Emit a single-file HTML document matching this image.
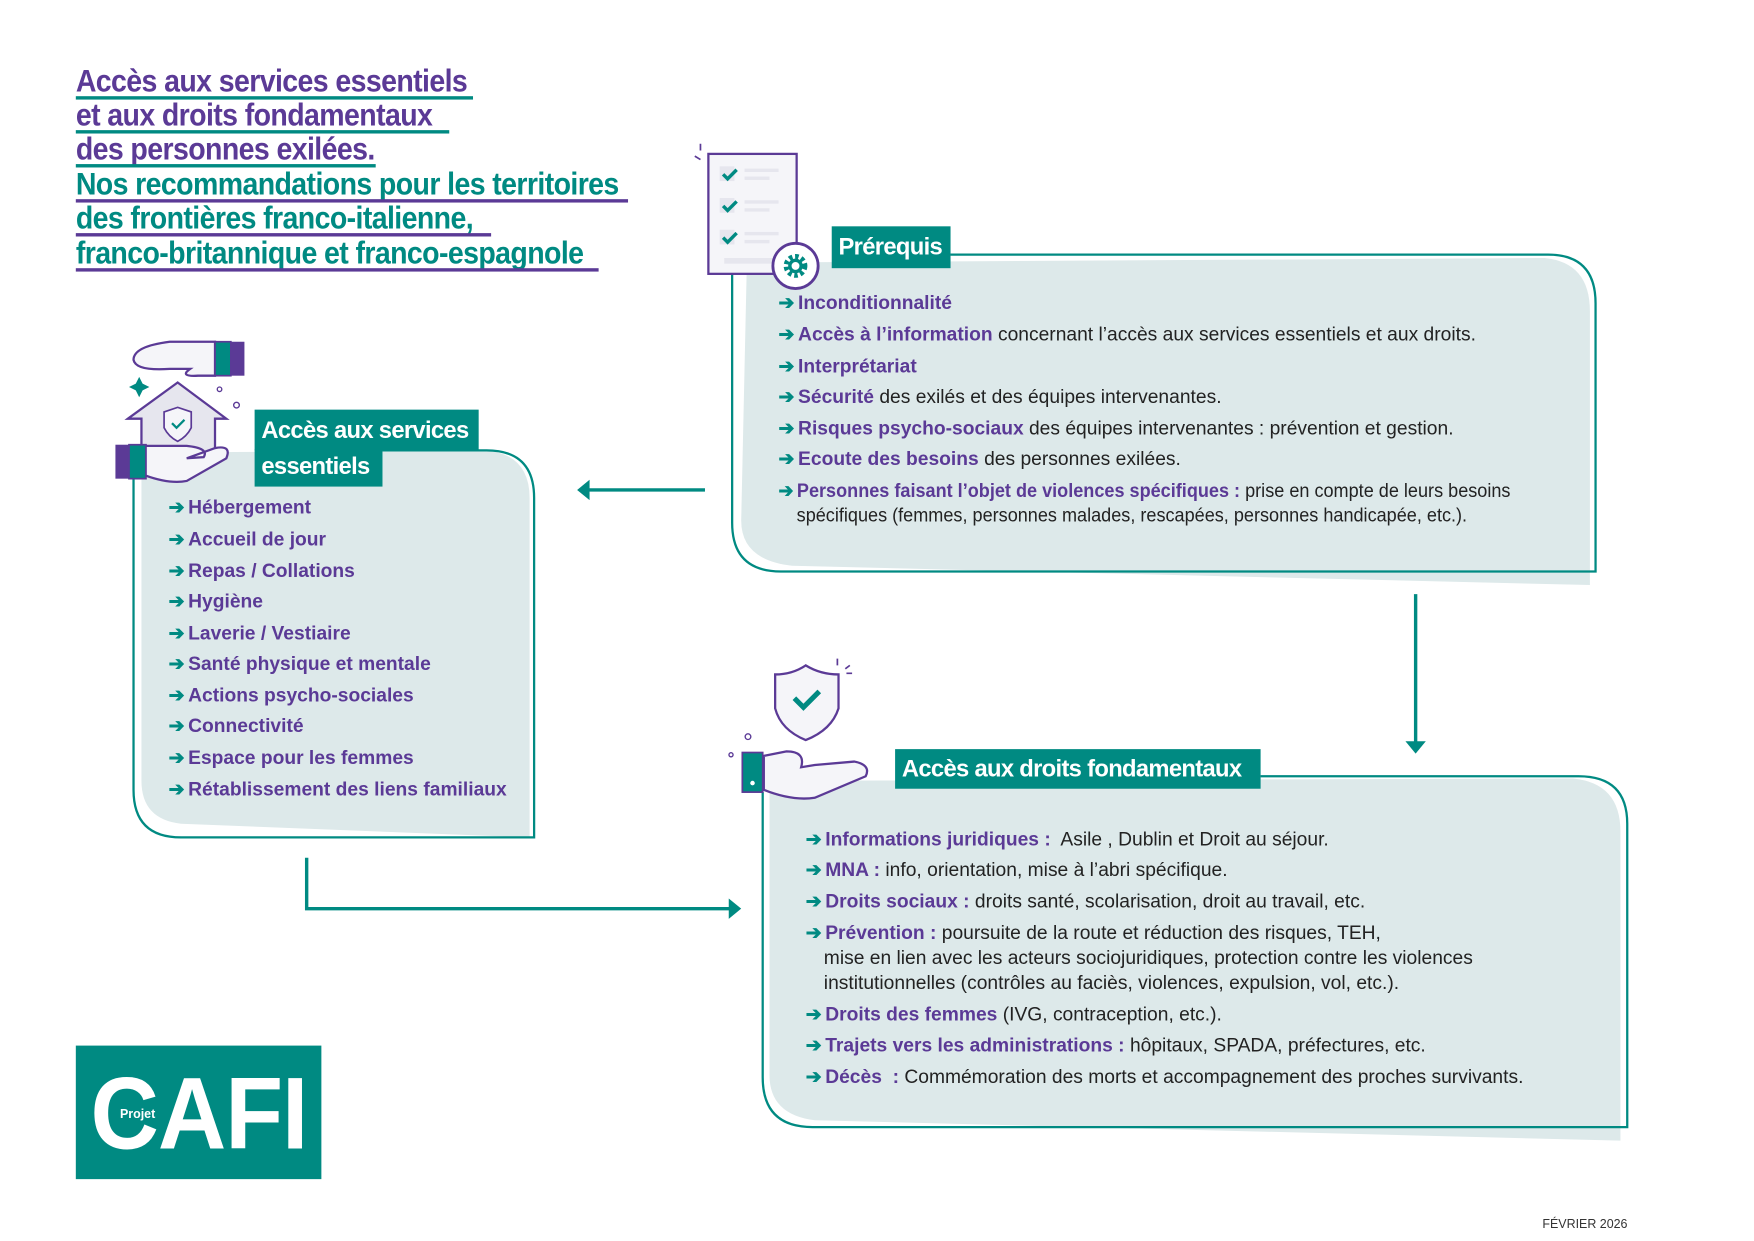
<!DOCTYPE html>
<html><head><meta charset="utf-8">
<style>
html,body{margin:0;padding:0;background:#fff;}
body{width:1754px;height:1241px;overflow:hidden;position:relative;}
#w{position:absolute;left:0;top:0;width:1550px;height:1097px;transform:scale(1.1316);transform-origin:0 0;}
.a{position:absolute;}
.t{position:absolute;white-space:nowrap;font-family:"Liberation Sans",sans-serif;line-height:1;transform-origin:0 0;}
.title{font-size:28px;font-weight:bold;letter-spacing:-0.6px;transform:scaleX(0.9);}
.p{color:#5b3a96}.g{color:#008a82}
.ul{position:absolute;height:3px;left:67px;}
.body{font-size:17px;color:#222;transform:scaleX(1.0);}
.body b{color:#5b3a96}
.body i{font-style:normal;color:#008a82;font-weight:bold;margin-right:3px}
.lbl{position:absolute;background:#008a82;color:#fff;font-family:"Liberation Sans",sans-serif;font-weight:bold;font-size:21px;letter-spacing:-0.6px;white-space:nowrap;line-height:1;}
.lst{font-size:17px;font-weight:bold;color:#5b3a96;transform:scaleX(1.0);}
.lst i{font-style:normal;color:#008a82;margin-right:3px}
</style></head><body><div id="w">

<div class="t title p" style="left:67px;top:58px">Accès aux services essentiels</div>
<div class="ul" style="top:85px;width:351px;background:#008a82"></div>
<div class="t title p" style="left:67px;top:88px">et aux droits fondamentaux</div>
<div class="ul" style="top:115px;width:330px;background:#008a82"></div>
<div class="t title p" style="left:67px;top:118px">des personnes exilées.</div>
<div class="ul" style="top:145px;width:265px;background:#008a82"></div>
<div class="t title g" style="left:67px;top:149px">Nos recommandations pour les territoires</div>
<div class="ul" style="top:176px;width:488px;background:#5b3a96"></div>
<div class="t title g" style="left:67px;top:179px">des frontières franco-italienne,</div>
<div class="ul" style="top:206px;width:367px;background:#5b3a96"></div>
<div class="t title g" style="left:67px;top:210px">franco-britannique et franco-espagnole</div>
<div class="ul" style="top:237px;width:462px;background:#5b3a96"></div>

<svg class="a" style="left:0;top:0" width="1550" height="1097">
 <path d="M660 232 L1365 228 Q1405 232 1405 275 L1405 517 L700 500 Q655 495 655 460 Z" fill="#dde9ea"/>
 <path d="M840 225 L1368 225 Q1410 225 1410 268 L1410 505 L690 505 Q647 505 647 462 L647 240" fill="none" stroke="#008a82" stroke-width="2"/>
 <path d="M125 400 L430 398 Q468 402 468 440 L468 740 L160 728 Q125 724 125 690 Z" fill="#dde9ea"/>
 <path d="M338 398 L430 398 Q472 398 472 440 L472 740 L160 740 Q118 740 118 698 L118 418" fill="none" stroke="#008a82" stroke-width="2"/>
 <path d="M680 690 L1390 688 Q1432 692 1432 735 L1432 1008 L720 990 Q680 985 680 950 Z" fill="#dde9ea"/>
 <path d="M1114 686 L1395 686 Q1438 686 1438 728 L1438 996 L718 996 Q674 996 674 952 L674 700" fill="none" stroke="#008a82" stroke-width="2"/>
 <line x1="623" y1="433" x2="520" y2="433" stroke="#008a82" stroke-width="3"/>
 <path d="M510 433 L521 424 L521 442 Z" fill="#008a82"/>
 <line x1="1251" y1="525" x2="1251" y2="656" stroke="#008a82" stroke-width="3"/>
 <path d="M1251 666 L1242 655 L1260 655 Z" fill="#008a82"/>
 <path d="M271 758 L271 803 L645 803" fill="none" stroke="#008a82" stroke-width="3"/>
 <path d="M655 803 L644 794 L644 812 Z" fill="#008a82"/>

 <rect x="626" y="136" width="78" height="106" fill="#f5f5f9" stroke="#5b3a96" stroke-width="2"/>
 <g fill="#e6e6ee"><rect x="636" y="147" width="13" height="13"/><rect x="636" y="175" width="13" height="13"/><rect x="636" y="203" width="13" height="13"/>
 <rect x="658" y="149" width="30" height="3"/><rect x="658" y="156" width="22" height="3"/><rect x="658" y="177" width="30" height="3"/><rect x="658" y="184" width="22" height="3"/><rect x="658" y="205" width="30" height="3"/><rect x="658" y="212" width="22" height="3"/><rect x="640" y="228" width="50" height="5"/></g>
 <g fill="none" stroke="#008a82" stroke-width="3"><path d="M639 154 l4 4 l8 -8"/><path d="M639 182 l4 4 l8 -8"/><path d="M639 210 l4 4 l8 -8"/></g>
 <path d="M614 138 l5 3 M619 127 l0 6" stroke="#5b3a96" stroke-width="1.5"/>
 <circle cx="703" cy="235" r="20" fill="#fff" stroke="#5b3a96" stroke-width="2.5"/>
 <circle cx="703" cy="235" r="8" fill="none" stroke="#008a82" stroke-width="5" stroke-dasharray="3 2.3"/>
 <circle cx="703" cy="235" r="5" fill="none" stroke="#008a82" stroke-width="3"/>

 <path d="M190 302 L150 302 Q118 306 118 318 Q120 328 150 326 L168 326 Q158 333 175 332 L190 332 Z" fill="#f5f5f9" stroke="#5b3a96" stroke-width="2"/>
 <rect x="190" y="302" width="14" height="30" fill="#008a82" stroke="#5b3a96" stroke-width="1.5"/>
 <rect x="204" y="302" width="12" height="30" fill="#5b3a96"/>
 <path d="M113 370 L157 338 L200 370 L190 370 L190 410 L125 410 L125 370 Z" fill="#e6e6ee" stroke="#5b3a96" stroke-width="2"/>
 <path d="M145 364 L157 360 L169 364 L169 378 Q165 386 157 390 Q149 386 145 378 Z" fill="#f5f5f9" stroke="#5b3a96" stroke-width="1.5"/>
 <path d="M152 374 l4 4 l7 -7" fill="none" stroke="#008a82" stroke-width="2"/>
 <path d="M128 394 L165 394 Q185 396 180 404 L165 405 L190 396 Q205 393 200 405 L165 425 Q150 428 128 420 Z" fill="#f5f5f9" stroke="#5b3a96" stroke-width="2"/>
 <rect x="114" y="393" width="15" height="30" fill="#008a82" stroke="#5b3a96" stroke-width="1.5"/>
 <rect x="102" y="393" width="12" height="30" fill="#5b3a96"/>
 <path d="M123 333 l3 6 l6 3 l-6 3 l-3 6 l-3 -6 l-6 -3 l6 -3 Z" fill="#008a82"/>
 <circle cx="194" cy="344" r="2" fill="none" stroke="#5b3a96" stroke-width="1.2"/>
 <circle cx="209" cy="358" r="2.5" fill="none" stroke="#5b3a96" stroke-width="1.2"/>

 <path d="M685 596 Q700 596 712 588 Q725 596 741 596 L741 626 Q735 645 712 654 Q690 645 685 626 Z" fill="#f5f5f9" stroke="#5b3a96" stroke-width="2"/>
 <path d="M702 617 l8 8 l14 -14" fill="none" stroke="#008a82" stroke-width="4.5"/>
 <path d="M740 582 l0 6 M747 591 l4 -3 M748 595 l5 0" stroke="#5b3a96" stroke-width="1.5"/>
 <circle cx="661" cy="651" r="2.5" fill="none" stroke="#5b3a96" stroke-width="1.2"/>
 <circle cx="646" cy="667" r="1.8" fill="none" stroke="#5b3a96" stroke-width="1.2"/>
 <path d="M675 668 L695 664 Q712 664 708 678 L720 676 L755 673 Q770 676 765 686 L720 705 Q700 708 675 698 Z" fill="#f5f5f9" stroke="#5b3a96" stroke-width="2"/>
 <rect x="656" y="665" width="18" height="35" fill="#008a82" stroke="#5b3a96" stroke-width="1.5"/>
 <circle cx="665" cy="692" r="2" fill="#fff"/>
</svg>

<div class="lbl" style="left:735px;top:200px;width:105px;height:37px;"><span style="position:absolute;left:6px;top:8px">Prérequis</span></div>
<div class="lbl" style="left:225px;top:362px;width:198px;height:36px;"><span style="position:absolute;left:6px;top:8px">Accès aux services</span></div>
<div class="lbl" style="left:225px;top:397px;width:113px;height:33px;"><span style="position:absolute;left:6px;top:5px">essentiels</span></div>
<div class="lbl" style="left:791px;top:662px;width:323px;height:35px;"><span style="position:absolute;left:6px;top:7px">Accès aux droits fondamentaux</span></div>

<div class="t body" style="left:688px;top:259px"><i>➔</i><b>Inconditionnalité</b></div>
<div class="t body" style="left:688px;top:287px"><i>➔</i><b>Accès à l’information</b> concernant l’accès aux services essentiels et aux droits.</div>
<div class="t body" style="left:688px;top:315px"><i>➔</i><b>Interprétariat</b></div>
<div class="t body" style="left:688px;top:342px"><i>➔</i><b>Sécurité</b> des exilés et des équipes intervenantes.</div>
<div class="t body" style="left:688px;top:370px"><i>➔</i><b>Risques psycho-sociaux</b> des équipes intervenantes : prévention et gestion.</div>
<div class="t body" style="left:688px;top:397px"><i>➔</i><b>Ecoute des besoins</b> des personnes exilées.</div>
<div class="t body" style="left:688px;top:425px;transform:scaleX(0.94)"><i>➔</i><b>Personnes faisant l’objet de violences spécifiques :</b> prise en compte de leurs besoins</div>
<div class="t body" style="left:704px;top:447px;transform:scaleX(0.94)">spécifiques (femmes, personnes malades, rescapées, personnes handicapée, etc.).</div>

<div class="t lst" style="left:149px;top:440px"><i>➔</i>Hébergement</div>
<div class="t lst" style="left:149px;top:468px"><i>➔</i>Accueil de jour</div>
<div class="t lst" style="left:149px;top:496px"><i>➔</i>Repas / Collations</div>
<div class="t lst" style="left:149px;top:523px"><i>➔</i>Hygiène</div>
<div class="t lst" style="left:149px;top:551px"><i>➔</i>Laverie / Vestiaire</div>
<div class="t lst" style="left:149px;top:578px"><i>➔</i>Santé physique et mentale</div>
<div class="t lst" style="left:149px;top:606px"><i>➔</i>Actions psycho-sociales</div>
<div class="t lst" style="left:149px;top:633px"><i>➔</i>Connectivité</div>
<div class="t lst" style="left:149px;top:661px"><i>➔</i>Espace pour les femmes</div>
<div class="t lst" style="left:149px;top:689px"><i>➔</i>Rétablissement des liens familiaux</div>

<div class="t body" style="left:712px;top:733px"><i>➔</i><b>Informations juridiques :</b>&nbsp; Asile , Dublin et Droit au séjour.</div>
<div class="t body" style="left:712px;top:760px"><i>➔</i><b>MNA :</b> info, orientation, mise à l’abri spécifique.</div>
<div class="t body" style="left:712px;top:788px"><i>➔</i><b>Droits sociaux :</b> droits santé, scolarisation, droit au travail, etc.</div>
<div class="t body" style="left:712px;top:816px"><i>➔</i><b>Prévention :</b> poursuite de la route et réduction des risques, TEH,</div>
<div class="t body" style="left:728px;top:838px">mise en lien avec les acteurs sociojuridiques, protection contre les violences</div>
<div class="t body" style="left:728px;top:860px">institutionnelles (contrôles au faciès, violences, expulsion, vol, etc.).</div>
<div class="t body" style="left:712px;top:888px"><i>➔</i><b>Droits des femmes</b> (IVG, contraception, etc.).</div>
<div class="t body" style="left:712px;top:915px"><i>➔</i><b>Trajets vers les administrations :</b> hôpitaux, SPADA, préfectures, etc.</div>
<div class="t body" style="left:712px;top:943px"><i>➔</i><b>Décès&nbsp; :</b> Commémoration des morts et accompagnement des proches survivants.</div>

<div class="a" style="left:67px;top:924px;width:217px;height:118px;background:#008a82;"></div>
<div class="t" style="left:80px;top:940px;font-size:90px;font-weight:bold;color:#fff;letter-spacing:-1px;transform:scaleX(0.93)">CAFI</div>
<div class="t" style="left:104px;top:979px;font-size:11px;font-weight:bold;color:#fff;background:#008a82;padding:1px 2px">Projet</div>

<div class="t" style="left:1363px;top:1077px;font-size:11px;color:#333;">FÉVRIER 2026</div>
</div></body></html>
